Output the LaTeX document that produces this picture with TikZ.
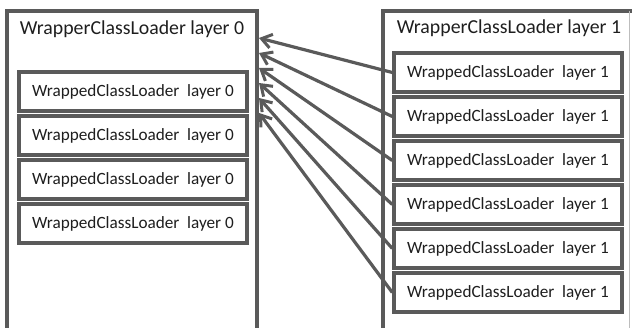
\documentclass[tikz,border=0pt]{standalone}
\usepackage{fontspec}
\setmainfont{Carlito}
\usetikzlibrary{arrows.meta}
\definecolor{edge}{HTML}{5A5A5A}
\definecolor{ink}{HTML}{1E1E1E}
\tikzset{
  outerbox/.style={draw=edge, line width=3.4pt},
  innerbox/.style={draw=edge, line width=3.4pt, fill=white, minimum width=228pt, minimum height=39pt, inner sep=0pt, text=ink, font=\fontsize{17.2}{19}\selectfont},
  boxtitle/.style={text=ink, font=\fontsize{19.8}{22}\selectfont, inner sep=0pt},
  link/.style={draw=edge, line width=3.2pt, -{Straight Barb[length=10pt,width=14pt,line width=3pt]}}
}
\begin{document}
\begin{tikzpicture}[x=1pt,y=-1pt]
\useasboundingbox (0,0) rectangle (632,328);
% outer loaders (run off the bottom of the page)
\draw[outerbox] (7,345) -- (7,11) -- (257,11) -- (257,345);
\draw[outerbox] (383,345) -- (383,11) -- (640,11);
\draw[draw=edge!40, line width=0.8pt] (629.5,11) -- (629.5,330);
\node[boxtitle] (t0) at (132,29) {WrapperClassLoader layer 0};
\node[boxtitle] (t1) at (509,28) {WrapperClassLoader layer 1};
% wrapped loaders of layer 0
\foreach \i/\y in {1/91.5,2/135.5,3/179.5,4/223.5}
  \node[innerbox] (a\i) at (133,\y) {WrappedClassLoader\ \ layer 0};
% wrapped loaders of layer 1
\foreach \i/\y in {1/72.5,2/116.5,3/160.5,4/204.5,5/248.5,6/292.5}
  \node[innerbox] (b\i) at (508,\y) {WrappedClassLoader\ \ layer 1};
% arrow targets on the right side of layer 0
\foreach \i/\y in {1/38,2/53,3/68,4/83,5/98,6/113}
  \coordinate (p\i) at (259,\y);
\foreach \i in {1,...,6}
  \draw[link] (b\i.west) -- (p\i);
\end{tikzpicture}
\end{document}
